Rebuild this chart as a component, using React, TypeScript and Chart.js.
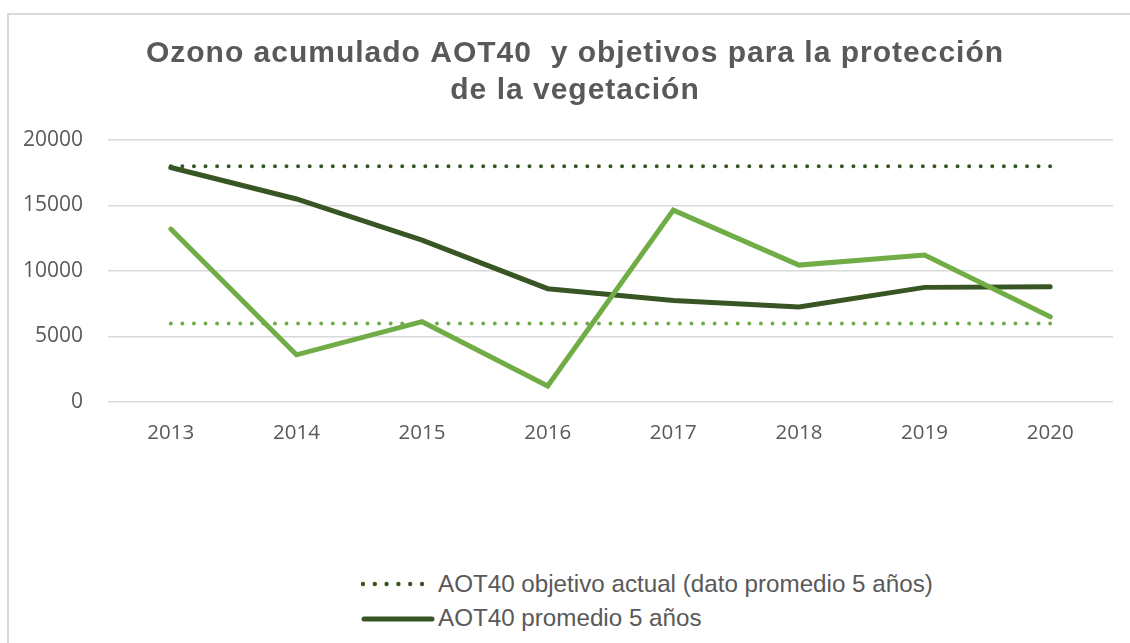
import React, { useEffect, useRef } from 'react';
import { Chart, registerables } from 'chart.js';

Chart.register(...registerables);

const YEARS = ['2013', '2014', '2015', '2016', '2017', '2018', '2019', '2020'];
const OBJETIVO_ACTUAL = [18000, 18000, 18000, 18000, 18000, 18000, 18000, 18000];
const PROMEDIO_5 = [17900, 15500, 12350, 8650, 7750, 7250, 8750, 8800];
const AOT40_ANUAL = [13200, 3600, 6130, 1220, 14650, 10450, 11220, 6500];
const OBJETIVO_LARGO = [6000, 6000, 6000, 6000, 6000, 6000, 6000, 6000];
const Y_TICKS = [0, 5000, 10000, 15000, 20000];
const TITLE_LINES = ['Ozono acumulado AOT40  y objetivos para la protección', 'de la vegetación'];
const LEGEND_LABELS = ['AOT40 objetivo actual (dato promedio 5 años)', 'AOT40 promedio 5 años'];

const DARK = '#375623';
const LIGHT = '#70AD47';
const TEXT = '#595959';
const GRID = '#d9d9d9';

const titlePlugin = {
  id: 'customTitle',
  afterDraw(chart: any) {
    const ctx = chart.ctx as CanvasRenderingContext2D;
    ctx.save();
    ctx.font = 'bold 30px "Liberation Sans", Arial, sans-serif';
    ctx.fillStyle = TEXT;
    ctx.textAlign = 'center';
    ctx.textBaseline = 'alphabetic';
    (ctx as any).letterSpacing = '1px';
    TITLE_LINES.forEach((line, i) => {
      ctx.fillText(line, 566, 47 + i * 37);
    });
    ctx.restore();
  },
};

export default function App() {
  const ref = useRef<HTMLCanvasElement>(null);

  useEffect(() => {
    if (!ref.current) return;
    const chart = new Chart(ref.current, {
      type: 'line',
      data: {
        labels: YEARS,
        datasets: [
          {
            label: LEGEND_LABELS[0],
            data: OBJETIVO_ACTUAL,
            borderColor: DARK,
            backgroundColor: DARK,
            borderWidth: 4,
            borderDash: [0, 11.57],
            borderCapStyle: 'round',
            pointRadius: 0,
            order: 3,
          },
          {
            label: LEGEND_LABELS[1],
            data: PROMEDIO_5,
            borderColor: DARK,
            backgroundColor: DARK,
            borderWidth: 5,
            borderCapStyle: 'round',
            pointRadius: 0,
            order: 1,
          },
          {
            label: 'AOT40',
            data: AOT40_ANUAL,
            borderColor: LIGHT,
            backgroundColor: LIGHT,
            borderWidth: 5,
            borderCapStyle: 'round',
            pointRadius: 0,
            order: 0,
          },
          {
            label: 'AOT40 objetivo largo plazo',
            data: OBJETIVO_LARGO,
            borderColor: LIGHT,
            backgroundColor: LIGHT,
            borderWidth: 4,
            borderDash: [0, 11.57],
            borderCapStyle: 'round',
            pointRadius: 0,
            order: 2,
          },
        ],
      },
      options: {
        responsive: false,
        animation: false,
        devicePixelRatio: 1,
        layout: { padding: { top: 125, right: 17, bottom: 93, left: 0 } },
        plugins: {
          legend: { display: false },
          title: { display: false },
          tooltip: { enabled: false },
        },
        scales: {
          x: {
            offset: true,
            grid: { display: false, drawTicks: false, offset: true },
            border: { display: false },
            ticks: {
              color: TEXT,
              padding: 19,
              font: { family: '"Open Sans", sans-serif', size: 20.5 },
            },
            afterFit: (s: any) => {
              s.height = 60;
            },
          },
          y: {
            min: 0,
            max: 20000,
            afterBuildTicks: (s: any) => {
              s.ticks = Y_TICKS.map((v) => ({ value: v }));
            },
            grid: { color: GRID, lineWidth: 1.5, drawTicks: false },
            border: { display: false },
            ticks: {
              color: TEXT,
              padding: 25,
              font: { family: '"Open Sans", sans-serif', size: 21 },
              callback: (v: any) => String(v),
            },
            afterFit: (s: any) => {
              s.width = 99;
            },
          },
        },
      },
      plugins: [titlePlugin],
    } as any);
    return () => chart.destroy();
  }, []);

  const dots = [0, 1, 2, 3, 4, 5];

  return (
    <div
      style={{
        position: 'absolute',
        left: 7,
        top: 13,
        width: 1123,
        height: 630,
        borderLeft: `2px solid ${GRID}`,
        borderTop: `2px solid ${GRID}`,
        boxSizing: 'border-box',
        overflow: 'hidden',
        background: '#fff',
      }}
    >
      <canvas
        ref={ref}
        width={1121}
        height={540}
        style={{ position: 'absolute', left: 0, top: 0, width: 1121, height: 540 }}
      />
      <svg
        width={100}
        height={60}
        style={{ position: 'absolute', left: 346, top: 554 }}
      >
        {dots.map((i) => (
          <circle key={i} cx={8 + i * 11.8} cy={15} r={2.2} fill={DARK} />
        ))}
        <line x1={9} y1={50} x2={77} y2={50} stroke={DARK} strokeWidth={5} strokeLinecap="round" />
      </svg>
      {LEGEND_LABELS.map((t, i) => (
        <div
          key={t}
          style={{
            position: 'absolute',
            left: 429,
            top: 557 + i * 34,
            height: 24,
            lineHeight: '24px',
            fontSize: 24.2,
            fontFamily: '"Liberation Sans", Arial, sans-serif',
            color: TEXT,
            whiteSpace: 'nowrap',
          }}
        >
          {t}
        </div>
      ))}
    </div>
  );
}
